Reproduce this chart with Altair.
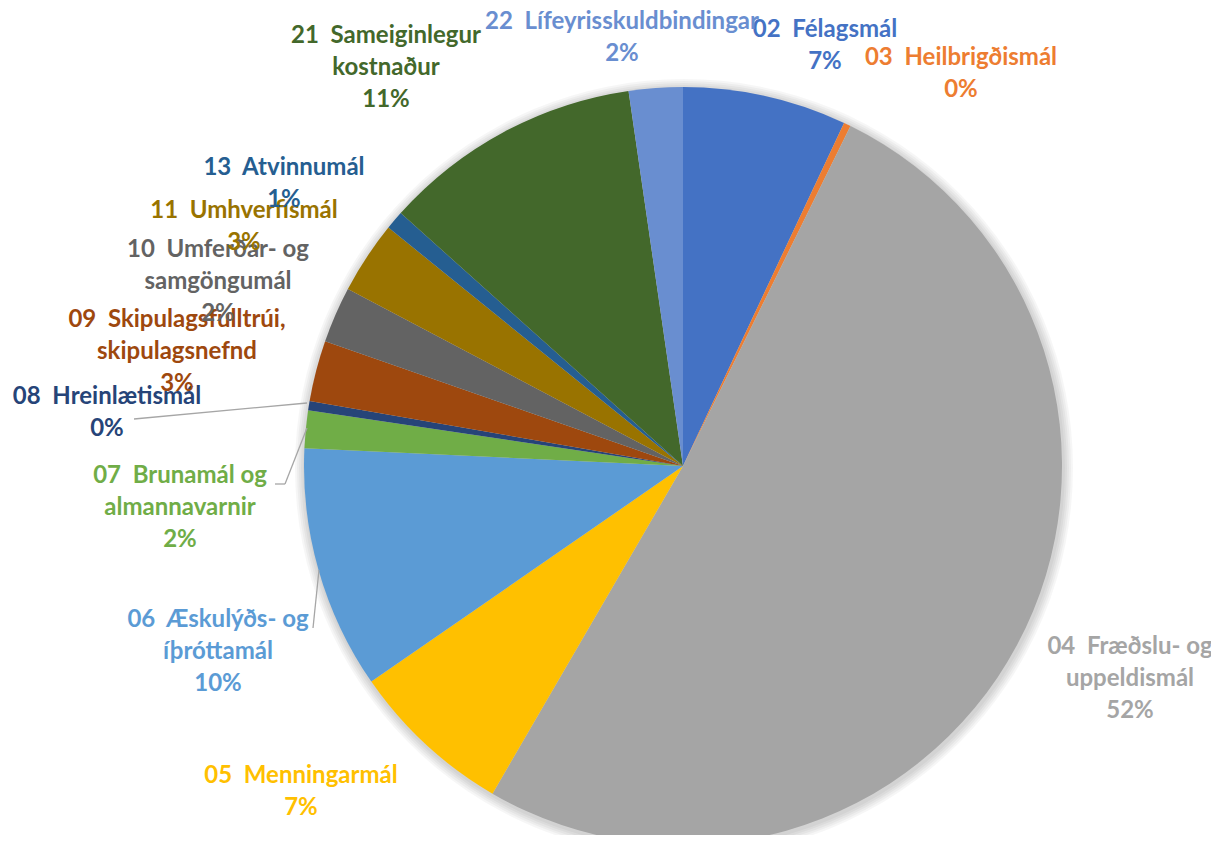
import altair as alt
import pandas as pd

# ---- data (clockwise from 12 o'clock) ----
codes = ["02", "03", "04", "05", "06", "07", "08", "09", "10", "11", "13", "21", "22"]
names = ["Félagsmál", "Heilbrigðismál", "Fræðslu- og uppeldismál", "Menningarmál",
         "Æskulýðs- og íþróttamál", "Brunamál og almannavarnir", "Hreinlætismál",
         "Skipulagsfulltrúi, skipulagsnefnd", "Umferðar- og samgöngumál", "Umhverfismál",
         "Atvinnumál", "Sameiginlegur kostnaður", "Lífeyrisskuldbindingar"]
shares = [7.0, 0.3, 51.2, 7.0, 10.4, 1.6, 0.4, 2.6, 2.4, 3.1, 0.8, 11.1, 2.3]
pct_labels = ["7%", "0%", "52%", "7%", "10%", "2%", "0%", "3%", "2%", "3%", "1%", "11%", "2%"]
colors = ["#4472C4", "#ED7D31", "#A5A5A5", "#FFC000", "#5B9BD5", "#70AD47", "#264478",
          "#9E480E", "#636363", "#997300", "#255E91", "#43682B", "#698ED0"]

# label text broken into lines as in the picture
label_lines = [
    ["02\u00a0\u00a0Félagsmál"],
    ["03\u00a0\u00a0Heilbrigðismál"],
    ["04\u00a0\u00a0Fræðslu- og", "uppeldismál"],
    ["05\u00a0\u00a0Menningarmál"],
    ["06\u00a0\u00a0Æskulýðs- og", "íþróttamál"],
    ["07\u00a0\u00a0Brunamál og", "almannavarnir"],
    ["08\u00a0\u00a0Hreinlætismál"],
    ["09\u00a0\u00a0Skipulagsfulltrúi,", "skipulagsnefnd"],
    ["10\u00a0\u00a0Umferðar- og", "samgöngumál"],
    ["11\u00a0\u00a0Umhverfismál"],
    ["13\u00a0\u00a0Atvinnumál"],
    ["21\u00a0\u00a0Sameiginlegur", "kostnaður"],
    ["22\u00a0\u00a0Lífeyrisskuldbindingar"],
]

# ---- layout (pixel positions inside the plot area; y = first line) ----
W, H = 1203, 827
CX, CY, R = 675, 458, 379
label_x = [817, 953, 1122, 293, 210, 172, 99, 169, 210, 236, 276, 378, 614]
label_y = [22, 50, 639, 768, 612, 468, 389, 312, 242, 203, 160, 28, 14]
leaders = [  # (x, y, x2, y2)
    (126, 411, 299, 395),   # 08
    (267, 476, 277, 476),   # 07 horizontal
    (277, 476, 299, 420),   # 07 diagonal
    (305, 620, 311, 562),   # 06
]

slices = pd.DataFrame({
    "idx": list(range(len(codes))),
    "code": codes,
    "name": names,
    "share": shares,
    "color": colors,
})

labels = pd.DataFrame({
    "lx": label_x,
    "ly": label_y,
    "txt": ["\n".join(l + [p]) for l, p in zip(label_lines, pct_labels)],
    "color": colors,
})

lines = pd.DataFrame(leaders, columns=["x", "y", "x2", "y2"])

# soft shadow around the pie
shadow_layers = []
for rr in [381, 383, 385, 387, 389]:
    shadow_layers.append(
        alt.Chart(alt.Data(values=[{"a": 1}]))
        .mark_arc(radius=rr, theta=0, theta2=6.2832, color="#000000", opacity=0.035)
        .encode(x=alt.value(CX + 1), y=alt.value(CY + 2))
    )

pie = (
    alt.Chart(slices)
    .mark_arc(radius=R, stroke=None)
    .encode(
        theta=alt.Theta("share:Q", stack=True),
        order=alt.Order("idx:Q"),
        color=alt.Color("color:N", scale=None),
        x=alt.value(CX),
        y=alt.value(CY),
    )
)

leader_rules = (
    alt.Chart(lines)
    .mark_rule(color="#A6A6A6", strokeWidth=1.3)
    .encode(
        x=alt.X("x:Q", scale=None),
        y=alt.Y("y:Q", scale=None),
        x2="x2:Q",
        y2="y2:Q",
    )
)

text = (
    alt.Chart(labels)
    .mark_text(font="Lato", fontWeight="bold", fontSize=24, lineBreak="\n",
               lineHeight=32, align="center", baseline="middle")
    .encode(
        x=alt.X("lx:Q", scale=None),
        y=alt.Y("ly:Q", scale=None),
        text="txt:N",
        color=alt.Color("color:N", scale=None),
    )
)

chart = (
    alt.layer(*shadow_layers, pie, leader_rules, text)
    .properties(width=W, height=H, padding=0, autosize="none", background="white")
    .configure_view(stroke=None)
)

chart.save("out.html", embed_options={"renderer": "svg", "actions": False})
